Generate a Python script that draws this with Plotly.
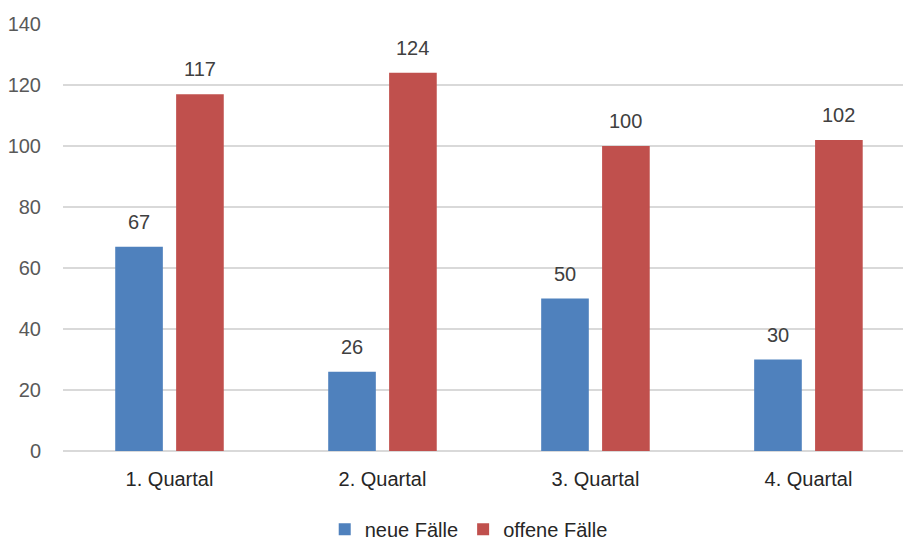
import plotly.graph_objects as go

quartale = ["1. Quartal", "2. Quartal", "3. Quartal", "4. Quartal"]
neue_faelle = [67, 26, 50, 30]
offene_faelle = [117, 124, 100, 102]
y_ticks = [0, 20, 40, 60, 80, 100, 120, 140]

BLUE = "#4F81BD"
RED = "#C0504D"
FONT = "Liberation Sans, Arial, sans-serif"
SIZE = 20

fig = go.Figure()
fig.add_trace(go.Bar(name="neue Fälle", x=quartale, y=neue_faelle,
                     marker=dict(color=BLUE, line=dict(width=0))))
fig.add_trace(go.Bar(name="offene Fälle", x=quartale, y=offene_faelle,
                     marker=dict(color=RED, line=dict(width=0))))

# value labels above each bar, shifted to the bar's slot within the group
slot_px = 30.45
for vals, shift in ((neue_faelle, -slot_px), (offene_faelle, slot_px)):
    for q, v in zip(quartale, vals):
        fig.add_annotation(x=q, y=v, text=str(v), showarrow=False,
                           xshift=shift, yanchor="bottom", yshift=12,
                           font=dict(family=FONT, size=SIZE, color="#404040"))

fig.update_layout(
    width=903, height=542,
    margin=dict(l=63, r=0, t=24, b=91, autoexpand=False),
    paper_bgcolor="white", plot_bgcolor="white",
    barmode="group", bargap=0.428, bargroupgap=0.218,
    font=dict(family=FONT, size=SIZE, color="#262626"),
    legend=dict(orientation="h", x=0.483, xanchor="center",
                y=-0.183, yanchor="middle",
                font=dict(family=FONT, size=SIZE, color="#262626"),
                itemwidth=30, tracegroupgap=0),
    xaxis=dict(range=[-0.5, 3.444], showgrid=False, showline=False,
               zeroline=False, ticks="", ticklabelstandoff=14,
               tickfont=dict(family=FONT, size=SIZE, color="#262626")),
    yaxis=dict(range=[0, 140], tickvals=y_ticks, showgrid=True,
               gridcolor="#D9D9D9", gridwidth=1.5, zeroline=True,
               zerolinecolor="#D9D9D9", zerolinewidth=1.5, showline=False,
               ticks="", ticklabelstandoff=21,
               tickfont=dict(family=FONT, size=SIZE, color="#595959")),
)

fig.write_html("out.html")
